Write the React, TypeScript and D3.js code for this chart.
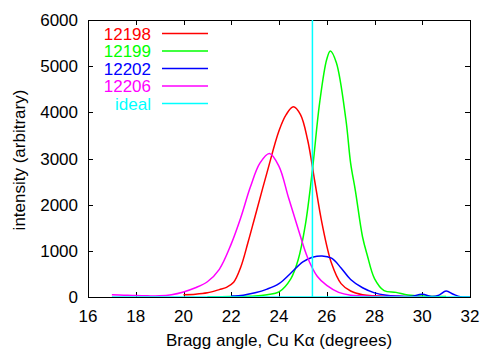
import React, { useEffect, useRef } from 'react';
import * as d3 from 'd3';

const width = 500;
const height = 350;
const margin = { top: 20, left: 88, bottom: 53, right: 30 };

const xTicks = [16, 18, 20, 22, 24, 26, 28, 30, 32];
const yTicks = [0, 1000, 2000, 3000, 4000, 5000, 6000];

// 12198
const x12198 = [20, 20.5, 21, 21.5, 21.8, 22.1, 22.4, 22.7, 23.0, 23.5, 24.0, 24.3, 24.6, 24.9, 25.2, 25.5, 25.8, 26.2, 26.6, 27.0, 27.5, 28, 29, 30];
const y12198 = [50, 60, 90, 160, 210, 320, 650, 1180, 1750, 2700, 3600, 3950, 4120, 3950, 3400, 2500, 1600, 730, 290, 130, 50, 25, 10, 5];

// 12199
const x12199 = [21, 22, 23, 23.5, 24, 24.5, 24.8, 25.1, 25.4, 25.7, 26.0, 26.15, 26.4, 26.8, 27.0, 27.2, 27.5, 27.7, 28.0, 28.4, 28.9, 29.4, 30, 31];
const y12199 = [5, 10, 20, 50, 110, 400, 800, 1550, 2750, 4200, 5150, 5330, 5080, 3850, 2900, 2300, 1300, 900, 400, 140, 100, 45, 20, 10];

// 12202
const x12202 = [22, 22.5, 23, 23.5, 24, 24.5, 25, 25.4, 25.8, 26.2, 26.6, 27.0, 27.5, 28, 28.5, 29, 29.5, 30, 30.4, 30.7, 31.0, 31.3, 31.6, 32];
const y12202 = [20, 40, 90, 170, 290, 520, 760, 860, 890, 840, 630, 380, 200, 90, 40, 20, 10, 60, 10, 40, 130, 60, 5, 0];

// 12206
const x12206 = [17, 17.5, 18, 18.5, 19, 19.5, 20, 20.5, 21, 21.5, 22, 22.4, 22.8, 23.2, 23.6, 24.0, 24.4, 24.8, 25.2, 25.6, 26.0, 26.5, 27, 28, 29, 30];
const y12206 = [50, 40, 30, 25, 25, 50, 110, 200, 330, 600, 1150, 1720, 2380, 2900, 3110, 2830, 2150, 1480, 850, 450, 250, 100, 40, 15, 10, 5];

// ideal
const xIdeal = [17, 25.4, 25.4, 25.4, 32];
const yIdeal = [0, 0, 7000, 0, 0];

const seriesNames = ['12198', '12199', '12202', '12206', 'ideal'];
const seriesColors = ['#ff0000', '#00ff00', '#0000ff', '#ff00ff', '#00ffff'];
const seriesX = [x12198, x12199, x12202, x12206, xIdeal];
const seriesY = [y12198, y12199, y12202, y12206, yIdeal];

const font = '"Liberation Sans", Arial, Helvetica, sans-serif';

const App = () => {
    const ref = useRef(null);

    useEffect(() => {
        const svg = d3.select(ref.current);
        svg.selectAll('*').remove();

        const x = d3.scaleLinear().domain([16, 32]).range([margin.left, width - margin.right]);
        const y = d3.scaleLinear().domain([0, 6000]).range([height - margin.bottom, margin.top]);

        svg.append('defs').append('clipPath').attr('id', 'plotclip')
            .append('rect')
            .attr('x', margin.left).attr('y', margin.top)
            .attr('width', width - margin.left - margin.right)
            .attr('height', height - margin.top - margin.bottom);

        const tl = 5;
        const g = svg.append('g').attr('stroke', '#000').attr('stroke-width', 1);
        // inward ticks, mirrored
        xTicks.forEach(t => {
            const px = Math.round(x(t)) + 0.5;
            g.append('line').attr('x1', px).attr('x2', px).attr('y1', y(0)).attr('y2', y(0) - tl);
            g.append('line').attr('x1', px).attr('x2', px).attr('y1', y(6000)).attr('y2', y(6000) + tl);
        });
        yTicks.forEach(t => {
            const py = Math.round(y(t)) + 0.5;
            g.append('line').attr('x1', x(16)).attr('x2', x(16) + tl).attr('y1', py).attr('y2', py);
            g.append('line').attr('x1', x(32)).attr('x2', x(32) - tl).attr('y1', py).attr('y2', py);
        });
        g.append('rect')
            .attr('x', x(16) + 0.5).attr('y', y(6000) + 0.5)
            .attr('width', x(32) - x(16)).attr('height', y(0) - y(6000))
            .attr('fill', 'none');

        svg.append('g').selectAll('text').data(xTicks).join('text')
            .attr('x', d => x(d)).attr('y', 322)
            .attr('text-anchor', 'middle')
            .style('font-family', font).style('font-size', '17px')
            .text(d => d);

        svg.append('g').selectAll('text').data(yTicks).join('text')
            .attr('x', 78).attr('y', d => y(d) + 6)
            .attr('text-anchor', 'end')
            .style('font-family', font).style('font-size', '17px')
            .text(d => d);

        svg.append('text')
            .attr('x', 279).attr('y', 346)
            .attr('text-anchor', 'middle')
            .style('font-family', font).style('font-size', '17px')
            .text('Bragg angle, Cu K\u03b1 (degrees)');

        svg.append('text')
            .attr('transform', 'translate(25,160) rotate(-90)')
            .attr('text-anchor', 'middle')
            .style('font-family', font).style('font-size', '17px')
            .text('intensity (arbitrary)');

        const plot = svg.append('g').attr('clip-path', 'url(#plotclip)');
        seriesNames.forEach((name, i) => {
            const pts = seriesX[i].map((v, j) => [v, seriesY[i][j]]);
            const line = d3.line()
                .x(d => x(d[0]))
                .y(d => y(d[1]))
                .curve(name === 'ideal' ? d3.curveLinear : d3.curveCatmullRom.alpha(0.5));
            plot.append('path')
                .attr('d', line(pts))
                .attr('fill', 'none')
                .attr('stroke', seriesColors[i])
                .attr('stroke-width', 1.5);
        });

        // legend
        const legend = svg.append('g');
        seriesNames.forEach((name, i) => {
            const cy = 33.5 + i * 17.5;
            legend.append('text')
                .attr('x', 151).attr('y', cy + 6)
                .attr('text-anchor', 'end')
                .attr('fill', seriesColors[i])
                .style('font-family', font).style('font-size', '17px')
                .text(name);
            legend.append('line')
                .attr('x1', 162).attr('x2', 208)
                .attr('y1', cy).attr('y2', cy)
                .attr('stroke', seriesColors[i])
                .attr('stroke-width', 1.5);
        });
    }, []);

    return (
        <svg ref={ref} width={width} height={height}
            style={{ position: 'absolute', left: 0, top: 0, background: '#fff' }} />
    );
};

export default App;
